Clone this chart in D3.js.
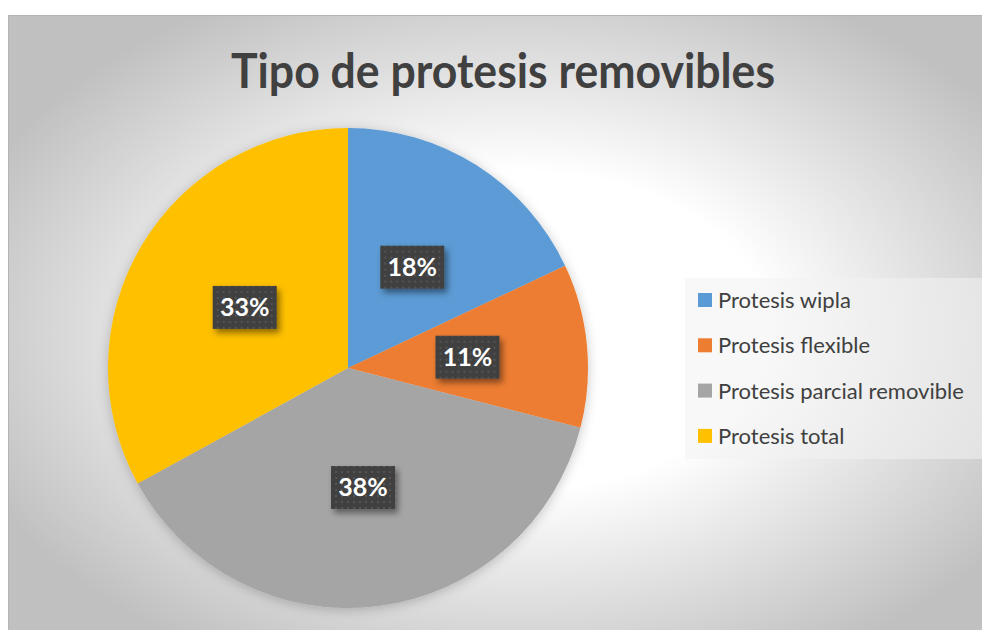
<!DOCTYPE html>
<html>
<head>
<meta charset="utf-8">
<script src="https://d3js.org/d3.v7.min.js"></script>
<style>
body { margin: 0; background: #fff; }
text { font-family: Lato, "Open Sans", sans-serif; }
</style>
</head>
<body>
<div id="chart"></div>
<script>
var width = 982, height = 630;

// data
var categories = ["Protesis wipla", "Protesis flexible", "Protesis parcial removible", "Protesis total"];
var values = [18, 11, 38, 33];
var colors = ["#5b9bd5", "#ed7d31", "#a5a5a5", "#ffc000"];
var title = "Tipo de protesis removibles";

var svg = d3.select("#chart").append("svg")
  .attr("width", width).attr("height", height);

var defs = svg.append("defs");

// background gradient, white in the middle, grey at the edges
var grad = defs.append("radialGradient").attr("id", "bg")
  .attr("cx", "52%").attr("cy", "50%").attr("r", "60%");
grad.append("stop").attr("offset", "0%").attr("stop-color", "#ffffff");
grad.append("stop").attr("offset", "42%").attr("stop-color", "#ffffff");
grad.append("stop").attr("offset", "100%").attr("stop-color", "#c0c0c0");

// dotted fill for the label boxes
var pat = defs.append("pattern").attr("id", "dots")
  .attr("width", 6).attr("height", 6).attr("patternUnits", "userSpaceOnUse");
pat.append("rect").attr("width", 6).attr("height", 6).attr("fill", "#3f3f3f");
pat.append("rect").attr("x", 2).attr("y", 2).attr("width", 2).attr("height", 2).attr("fill", "#555");

var shadow = defs.append("filter").attr("id", "shadow")
  .attr("x", "-30%").attr("y", "-30%").attr("width", "170%").attr("height", "170%");
shadow.append("feDropShadow").attr("dx", 3).attr("dy", 4).attr("stdDeviation", 3)
  .attr("flood-color", "#000").attr("flood-opacity", 0.45);

var pieShadow = defs.append("filter").attr("id", "pieshadow")
  .attr("x", "-10%").attr("y", "-10%").attr("width", "120%").attr("height", "125%");
pieShadow.append("feDropShadow").attr("dx", 0).attr("dy", 2).attr("stdDeviation", 6)
  .attr("flood-color", "#000").attr("flood-opacity", 0.22);

svg.append("rect")
  .attr("x", 8.5).attr("y", 15.5).attr("width", width).attr("height", height)
  .attr("fill", "url(#bg)").attr("stroke", "#b4b4b4").attr("stroke-width", 1);

svg.append("text")
  .attr("x", 503).attr("y", 88)
  .attr("text-anchor", "middle")
  .attr("textLength", 544).attr("lengthAdjust", "spacingAndGlyphs")
  .style("font-size", "48px").style("font-weight", "bold")
  .style("fill", "#404040")
  .text(title);

// pie
var radius = 240;
var cx = 348, cy = 368;

var pie = d3.pie().sort(null).value(d => d);
var arcs = pie(values);
var arc = d3.arc().innerRadius(0).outerRadius(radius);

var g = svg.append("g").attr("transform", "translate(" + cx + "," + cy + ")");

g.append("g").attr("filter", "url(#pieshadow)")
  .selectAll("path")
  .data(arcs)
  .enter().append("path")
  .attr("d", arc)
  .attr("fill", (d, i) => colors[i]);

var total = d3.sum(values);
var fmt = d3.format(".0%");

var labels = g.selectAll("g.label")
  .data(arcs)
  .enter().append("g")
  .attr("class", "label")
  .attr("transform", d => "translate(" + arc.centroid(d) + ")");

labels.append("rect")
  .attr("x", -32).attr("y", -21).attr("width", 64).attr("height", 43)
  .attr("fill", "url(#dots)")
  .attr("filter", "url(#shadow)");

labels.append("text")
  .attr("text-anchor", "middle")
  .attr("y", 9)
  .style("font-size", "25px").style("font-weight", "bold")
  .style("fill", "#fff")
  .text(d => fmt(d.data / total));

// legend
var legend = svg.append("g").attr("transform", "translate(685,278)");
legend.append("rect")
  .attr("width", 297).attr("height", 181)
  .attr("fill", "#f2f2f2").attr("opacity", 0.55);

var item = legend.selectAll("g.item")
  .data(categories)
  .enter().append("g")
  .attr("class", "item")
  .attr("transform", (d, i) => "translate(0," + (22 + i * 45.3) + ")");

item.append("rect")
  .attr("x", 13).attr("y", -7).attr("width", 14).attr("height", 14)
  .attr("fill", (d, i) => colors[i]);

item.append("text")
  .attr("x", 33).attr("y", 8)
  .style("font-size", "22px")
  .style("fill", "#404040")
  .text(d => d);
</script>
</body>
</html>
